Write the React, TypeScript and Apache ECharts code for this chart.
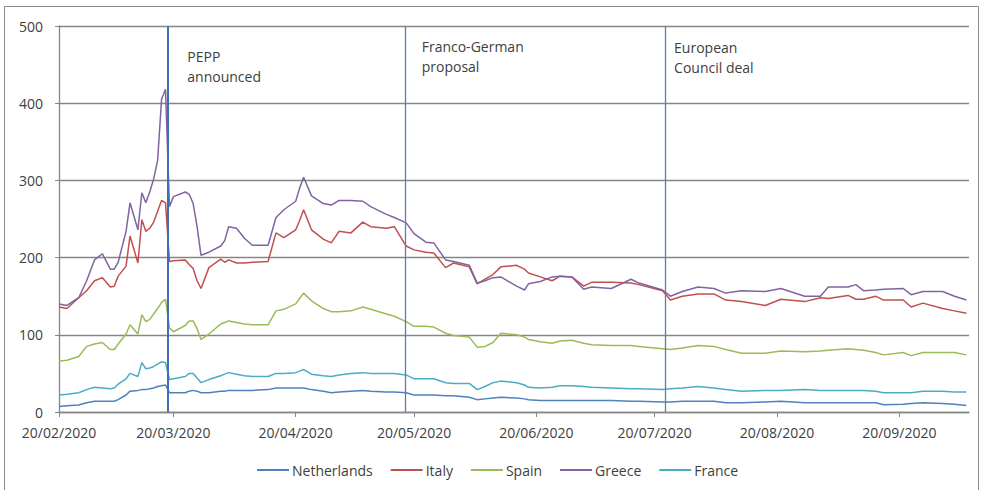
import React, { useEffect, useRef } from "react";
import * as echarts from "echarts";

const dates = [
  "2020-02-20", "2020-02-22", "2020-02-25", "2020-02-27", "2020-02-29",
  "2020-03-02", "2020-03-04", "2020-03-05", "2020-03-06", "2020-03-08",
  "2020-03-09", "2020-03-11", "2020-03-12", "2020-03-13", "2020-03-14",
  "2020-03-15", "2020-03-16", "2020-03-17", "2020-03-18", "2020-03-19",
  "2020-03-20", "2020-03-23", "2020-03-24", "2020-03-25", "2020-03-26",
  "2020-03-27", "2020-03-29", "2020-04-01", "2020-04-02", "2020-04-03",
  "2020-04-05", "2020-04-07", "2020-04-09", "2020-04-13", "2020-04-15",
  "2020-04-17", "2020-04-20", "2020-04-21", "2020-04-22", "2020-04-24",
  "2020-04-27", "2020-04-29", "2020-05-01", "2020-05-04", "2020-05-07",
  "2020-05-09", "2020-05-13", "2020-05-15", "2020-05-18", "2020-05-20",
  "2020-05-23", "2020-05-25", "2020-05-28", "2020-05-30", "2020-06-03",
  "2020-06-05", "2020-06-07", "2020-06-09", "2020-06-11", "2020-06-15",
  "2020-06-17", "2020-06-18", "2020-06-21", "2020-06-24", "2020-06-26",
  "2020-06-29", "2020-07-02", "2020-07-04", "2020-07-09", "2020-07-14",
  "2020-07-16", "2020-07-22", "2020-07-24", "2020-07-27", "2020-07-31",
  "2020-08-04", "2020-08-07", "2020-08-11", "2020-08-17", "2020-08-21",
  "2020-08-27", "2020-08-31", "2020-09-02", "2020-09-07", "2020-09-09",
  "2020-09-11", "2020-09-14", "2020-09-16", "2020-09-21", "2020-09-23",
  "2020-09-26", "2020-10-01", "2020-10-04", "2020-10-07",
];

const greece = [
  140, 138, 148, 170, 197,
  205, 185, 185, 194, 234,
  271, 236, 284, 271, 285,
  302, 326, 405, 418, 266,
  279, 285, 282, 270, 240,
  203, 207, 215, 222, 240,
  238, 225, 216, 216, 252,
  262, 273, 290, 304, 280,
  270, 268, 274, 274, 273,
  266, 256, 252, 245, 231,
  220, 219, 197, 195, 190,
  167, 170, 174, 175, 163,
  158, 166, 169, 175, 176,
  175, 159, 162, 160, 172,
  167, 158, 150, 156, 162,
  160, 154, 157, 156, 160,
  150, 150, 162, 162, 165,
  157, 158, 159, 160, 152,
  156, 156, 150, 145,
];

const italy = [
  136, 134, 148, 157, 170,
  174, 162, 163, 176, 189,
  228, 193, 249, 234, 238,
  246, 260, 274, 271, 195,
  196, 197, 191, 186, 170,
  160, 187, 198, 194, 197,
  193, 193, 194, 195, 232,
  226, 236, 248, 262, 236,
  224, 219, 234, 232, 246,
  240, 238, 240, 215, 210,
  207, 206, 187, 193, 188,
  166, 172, 178, 188, 190,
  185, 180, 175, 170, 176,
  175, 163, 168, 168, 167,
  165, 157, 145, 150, 153,
  153, 145, 143, 138, 146,
  143, 148, 147, 151, 146,
  146, 150, 145, 145, 136,
  141, 134, 131, 128,
];

const spain = [
  66, 67, 72, 85, 88,
  90, 81, 81, 88, 101,
  113, 101, 126, 117, 120,
  127, 134, 142, 146, 109,
  104, 112, 118, 118, 108,
  94, 101, 114, 116, 118,
  116, 114, 113, 113, 131,
  133, 140, 147, 154, 144,
  134, 130, 130, 131, 136,
  133, 127, 124, 117, 111,
  111, 110, 102, 99, 97,
  84, 85, 90, 102, 100,
  97, 94, 91, 89, 92,
  93, 89, 87, 86, 86,
  85, 82, 81, 83, 86,
  85, 81, 76, 76, 79,
  78, 79, 80, 82, 81,
  80, 77, 74, 77, 73,
  77, 77, 77, 74,
];

const france = [
  22, 23, 25, 29, 32,
  31, 30, 31, 36, 43,
  50, 46, 64, 56, 57,
  59, 62, 65, 64, 42,
  43, 46, 50, 50, 44,
  38, 42, 47, 49, 51,
  49, 47, 46, 46, 50,
  50, 51, 53, 55, 49,
  47, 46, 48, 50, 51,
  50, 50, 50, 48, 43,
  43, 43, 38, 37, 37,
  29, 33, 38, 40, 38,
  35, 32, 31, 32, 34,
  34, 33, 32, 31, 30,
  30, 29, 30, 31, 33,
  31, 29, 27, 28, 28,
  29, 28, 28, 28, 28,
  28, 27, 25, 25, 25,
  27, 27, 26, 26,
];

const netherlands = [
  7, 8, 9, 12, 14,
  14, 14, 14, 16, 22,
  27, 28, 29, 29, 30,
  31, 33, 34, 35, 25,
  25, 25, 27, 28, 27,
  25, 25, 27, 27, 28,
  28, 28, 28, 29, 31,
  31, 31, 31, 31, 29,
  27, 25, 26, 27, 28,
  27, 26, 26, 25, 22,
  22, 22, 21, 21, 19,
  16, 17, 18, 19, 18,
  17, 16, 15, 15, 15,
  15, 15, 15, 15, 14,
  14, 13, 13, 14, 14,
  14, 12, 12, 13, 14,
  12, 12, 12, 12, 12,
  12, 12, 9.5, 10, 11,
  12, 11, 10, 8.5,
];

const seriesNames = ["Netherlands", "Italy", "Spain", "Greece", "France"];
const seriesColors = ["#4F81BD", "#C0504D", "#9BBB59", "#8064A2", "#4BACC6"];

const tickDates = [
  "2020-02-20", "2020-03-20", "2020-04-20", "2020-05-20",
  "2020-06-20", "2020-07-20", "2020-08-20", "2020-09-20",
];

const eventDates = ["2020-03-18 14:00", "2020-05-17 18:00", "2020-07-22 18:00"];
const eventLabels = ["PEPP\nannounced", "Franco-German\nproposal", "European\nCouncil deal"];

const FONT = "'Open Sans', 'Noto Sans', sans-serif";
const TEXT = "#404040";

export default function App() {
  const ref = useRef<HTMLDivElement>(null);

  useEffect(() => {
    if (!ref.current) return;
    const chart = echarts.init(ref.current, null, { renderer: "svg" });
    const ts = (s: string) => echarts.time.parse(s).getTime();

    const valueSets = [netherlands, italy, spain, greece, france];

    // per-event label placement (styles only)
    const eventLabelY = [447, 460, 459];
    const eventLabelDx = [19, 16, 8];
    const eventLineWidth = [2, 1.3, 1.3];
    const eventLineColor = ["#3F6FB5", "#4F81BD", "#4F81BD"];

    const series: any[] = seriesNames.map((name, si) => ({
      name,
      type: "line",
      symbol: "none",
      showSymbol: false,
      color: seriesColors[si],
      lineStyle: { width: 1.5, color: seriesColors[si] },
      data: dates.map((d, i) => [ts(d), valueSets[si][i]]),
      z: 3,
    }));

    series[0].markLine = {
      silent: true,
      symbol: ["none", "none"],
      label: { show: false },
      lineStyle: { color: "#4F81BD", type: "solid" },
      data: eventDates.map((d, i) => ({
        xAxis: ts(d),
        lineStyle: { color: eventLineColor[i], width: eventLineWidth[i], type: "solid" },
      })),
      z: 4,
    };
    series[0].markPoint = {
      silent: true,
      symbol: "circle",
      symbolSize: 1,
      itemStyle: { color: "rgba(0,0,0,0)" },
      data: eventDates.map((d, i) => ({
        coord: [ts(d), eventLabelY[i]],
        label: {
          show: true,
          position: "right",
          distance: eventLabelDx[i],
          formatter: eventLabels[i],
          color: TEXT,
          fontSize: 14,
          fontFamily: FONT,
          lineHeight: 20,
          align: "left",
          verticalAlign: "middle",
        },
      })),
    };

    chart.setOption({
      animation: false,
      backgroundColor: "#ffffff",
      textStyle: { fontFamily: FONT },
      grid: { left: 59, right: 15, top: 26, bottom: 78, containLabel: false },
      xAxis: {
        type: "time",
        min: ts("2020-02-20"),
        max: ts("2020-10-07 16:00"),
        axisLine: { show: true, lineStyle: { color: "#868686", width: 1.3 } },
        axisTick: {
          show: true,
          length: 5,
          lineStyle: { color: "#868686" },
          customValues: tickDates.map(ts),
        },
        axisLabel: {
          show: true,
          color: TEXT,
          fontSize: 14,
          fontFamily: FONT,
          margin: 13,
          customValues: tickDates.map(ts),
          formatter: "{dd}/{MM}/{yyyy}",
          hideOverlap: false,
          showMinLabel: true,
          showMaxLabel: true,
        },
        splitLine: { show: false },
        minorTick: { show: false },
      },
      yAxis: {
        type: "value",
        min: 0,
        max: 500,
        interval: 100,
        axisLine: { show: true, lineStyle: { color: "#868686", width: 1.3 } },
        axisTick: { show: true, length: 4, lineStyle: { color: "#868686" } },
        axisLabel: { color: TEXT, fontSize: 14, fontFamily: FONT, margin: 16 },
        splitLine: { show: true, lineStyle: { color: "#868686", width: 1.3 } },
      },
      legend: {
        data: seriesNames.map((n) => ({ name: n, icon: "rect" })),
        left: 252,
        top: 458,
        itemWidth: 32,
        itemHeight: 2,
        itemGap: 18,
        textStyle: { color: TEXT, fontSize: 14, fontFamily: FONT, padding: [0, 0, 0, -2] },
      },
      graphic: [
        {
          type: "rect",
          silent: true,
          shape: { x: 4.5, y: 6.5, width: 974, height: 500 },
          style: { fill: "none", stroke: "#8c8c8c", lineWidth: 1 },
          z: -1,
        },
      ],
      series,
    });

    return () => {
      chart.dispose();
    };
  }, []);

  return (
    <div
      ref={ref}
      style={{ position: "fixed", left: 0, top: 0, width: 984, height: 490 }}
    />
  );
}
